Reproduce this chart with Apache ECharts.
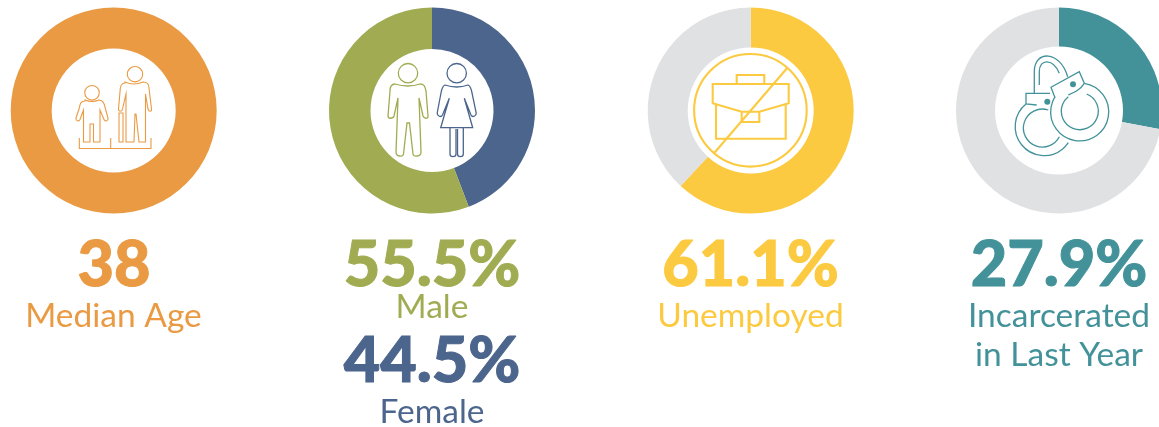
<!DOCTYPE html>
<html>
<head>
<meta charset="utf-8">
<style>
  html, body { margin: 0; padding: 0; background: #fff; }
  #chart { width: 1159px; height: 427px; }
</style>
<script src="https://cdn.jsdelivr.net/npm/echarts@6/dist/echarts.min.js"></script>
</head>
<body>
<div id="chart"></div>
<script>
// slice sizes read from the drawn arcs, clockwise from 12 o'clock
// (the arcs in the picture sit a little off the printed percentages)
const medianAge = [100]
const gender = [44.2, 55.8]
const unemployed = [61.9, 38.1]
const incarcerated = [27.9, 72.1]

const orange = '#EA9A43'
const green = '#A1AC52'
const blue = '#4C658C'
const yellow = '#FCCA40'
const teal = '#43929A'
const grey = '#E0E1E3'

const donuts = [
  { name: 'Median Age', values: medianAge, colors: [orange], x: 113.7, inner: 62 },
  { name: 'Gender', values: gender, colors: [blue, green], x: 432, inner: 61.5 },
  { name: 'Unemployed', values: unemployed, colors: [yellow, grey], x: 750.7, inner: 63 },
  { name: 'Incarcerated', values: incarcerated, colors: [teal, grey], x: 1059, inner: 64 }
]

// the big numbers are a bit heavier than Lato Black, so they get a thin outline
const bigFont = { fontFamily: 'Lato', fontWeight: 900, fontSize: 63, outline: 1 }
const smallFont = { fontFamily: 'Lato', fontWeight: 400, fontSize: 33.5, outline: 0 }

const texts = [
  { t: '38', x: 114, y: 266, c: orange, f: bigFont },
  { t: 'Median Age', x: 113.5, y: 316, c: orange, f: smallFont },
  { t: '55.5%', x: 432, y: 266, c: green, f: bigFont },
  { t: 'Male', x: 432, y: 307, c: green, f: smallFont },
  { t: '44.5%', x: 432, y: 362, c: blue, f: bigFont },
  { t: 'Female', x: 432, y: 412, c: blue, f: smallFont },
  { t: '61.1%', x: 750.5, y: 266, c: yellow, f: bigFont },
  { t: 'Unemployed', x: 750.5, y: 316, c: yellow, f: smallFont },
  { t: '27.9%', x: 1059, y: 266, c: teal, f: bigFont },
  { t: 'Incarcerated', x: 1059, y: 316, c: teal, f: smallFont },
  { t: 'in Last Year', x: 1059, y: 355, c: teal, f: smallFont }
]

// icon outlines, in page pixels
const icons = [
  { c: orange, w: 1.1, paths: [
    'M79.3 138V148.5H151V138M110.7 138V148.5',
    'M92 85.5a7.3 7.3 0 1 0 0.01 0Z',
    'M85 101C80 101 80 105 79 109L76 118C75.5 121 79 122 80 119.5L83.5 110V142H90V124H93.5V142H100V110L104 119.5C105 122 108.5 121 108 118L105 107C104 102 102 100 99 100Q92 103 85 100Z',
    'M135 66.5a7.7 7.7 0 1 0 0.01 0Z',
    'M125 83C121 83 120 87 120 92L118.5 109C118.5 112 122 112 122.5 109L126 94V142H134L135 114H136L139 142H145.5V94L148 109C149 112 152 112 151.5 109L149 88C149 84 147 82 143 82Q134 86 125 82Z',
    'M119 113H123V142H119Z'
  ] },
  { c: green, w: 1.3, paths: [
    'M408 63.5a9.7 9.7 0 1 0 0.01 0Z',
    'M395 84C391 84 390 87 390 91L388 116C388 119 393 119 394 116L398 98L396 152C396 157 403 157 403.5 154L407 123H409.5L413 154C413.5 157 421 157 421 152L419 98L423 116C424 119 428.5 119 428 116L426 91C425 86 424 84 420 84Q408 88 395 84Z'
  ] },
  { c: blue, w: 1.3, paths: [
    'M456.7 63.5a9.7 9.7 0 1 0 0.01 0Z',
    'M445 85C442.5 86 441.5 90 441 93L437.2 113C437 116 441 118 442.5 115L449.3 98.3L440.7 127.7H472.7L464.3 98.3L471 115C472.5 118 476.5 116 476.2 113L472 93C471.5 90 470.5 86 468 85Q457 89 445 85Z',
    'M450 128V154C450 157.5 456 157.5 456 154V129',
    'M457.5 129V154C457.5 157.5 463.3 157.5 463.3 154V128'
  ] },
  { c: yellow, w: 2.1, paths: [
    'M750.4 54a56.3 56.3 0 1 0 0.01 0Z',
    'M712.7 84H788.7V103.3L759.3 111.7H741.7L712.7 103.3Z',
    'M716 104V138.7H785.7V104',
    'M736.7 84V75H764.3V84',
    'M741.7 111.7V122H759.3V111.7',
    'M714 153.3L787 68.3'
  ] },
  { c: teal, w: 1.3, paths: [
    'M1034.3 93.3V71.7C1034.3 50 1060 50 1067.7 76.7',
    'M1039.3 85V71.7C1039.3 58.3 1053.3 58.3 1059.3 73.3',
    'M1036.7 105L1026 104V93.3H1050',
    'M1026 104A29 29 0 1 0 1068.3 142.7',
    'M1048.3 110A19 19 0 1 0 1059.3 136.7',
    'M1055 97.7L1051 87.3L1079.3 71.7L1084.3 83.3C1080 90 1075 92 1068.3 95',
    'M1084.3 83.3A29 29 0 1 1 1055 96.7',
    'M1086.7 94A18.5 18.5 0 1 1 1068.3 96.7'
  ], dots: [[1047.3, 101.7], [1073, 84.3]] }
]

const chart = echarts.init(document.getElementById('chart'))

const iconElements = []
icons.forEach((icon, i) => {
  icon.paths.forEach((p, j) => {
    // graphic has no plain path type, so each outline gets registered as a shape
    const shapeName = `icon_${i}_${j}`
    echarts.graphic.registerShape(shapeName, echarts.graphic.extendPath(p))
    iconElements.push({
      type: shapeName,
      style: { fill: 'none', stroke: icon.c, lineWidth: icon.w },
      silent: true,
      z: 10
    })
  })
  ;(icon.dots || []).forEach(d => {
    iconElements.push({
      type: 'circle',
      shape: { cx: d[0], cy: d[1], r: 3 },
      style: { fill: icon.c },
      silent: true,
      z: 10
    })
  })
})

chart.setOption({
  animation: false,
  backgroundColor: '#fff',
  series: donuts.map(d => ({
    type: 'pie',
    name: d.name,
    center: [d.x, 110.5],
    radius: [d.inner, 103],
    startAngle: 90,
    clockwise: true,
    silent: true,
    label: { show: false },
    labelLine: { show: false },
    data: d.values.map((v, i) => ({ value: v, itemStyle: { color: d.colors[i] } }))
  })),
  graphic: {
    elements: iconElements.concat(texts.map(item => ({
      type: 'text',
      x: item.x,
      y: item.y,
      silent: true,
      style: {
        text: item.t,
        fill: item.c,
        stroke: item.f.outline ? item.c : 'none',
        lineWidth: item.f.outline,
        align: 'center',
        verticalAlign: 'middle',
        fontFamily: item.f.fontFamily,
        fontWeight: item.f.fontWeight,
        fontSize: item.f.fontSize
      }
    })))
  }
})
</script>
</body>
</html>
